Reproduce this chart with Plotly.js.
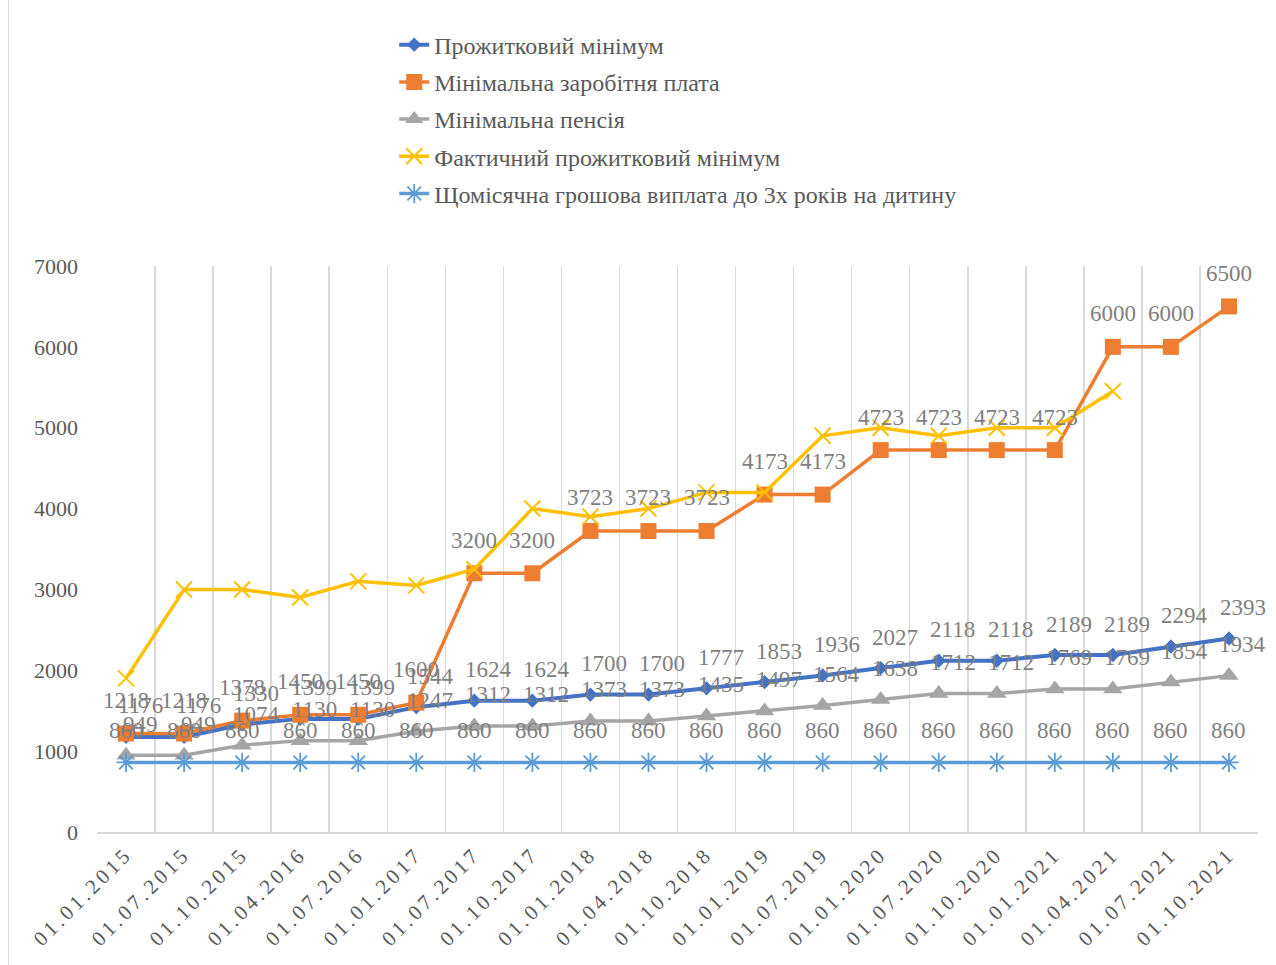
<!DOCTYPE html>
<html>
<head>
<meta charset="utf-8">
<script src="https://cdn.plot.ly/plotly-3.0.1.min.js"></script>
<style>
  html, body { margin: 0; padding: 0; background: #ffffff; }
  #wrap { position: relative; width: 1276px; height: 965px; }
  #chart { width: 1276px; height: 965px; }
  #edge { position: absolute; left: 8px; top: 0; width: 1px; height: 965px; background: #d9d9d9; }
  .xtick text { letter-spacing: 3.5px; }
</style>
</head>
<body>
<div id="wrap">
  <div id="chart"></div>
  <div id="edge"></div>
</div>
<script>
const categories = ["01.01.2015","01.07.2015","01.10.2015","01.04.2016","01.07.2016","01.01.2017","01.07.2017","01.10.2017","01.01.2018","01.04.2018","01.10.2018","01.01.2019","01.07.2019","01.01.2020","01.07.2020","01.10.2020","01.01.2021","01.04.2021","01.07.2021","01.10.2021"];

const seriesNames = ["Прожитковий мінімум","Мінімальна заробітня плата","Мінімальна пенсія","Фактичний прожитковий мінімум","Щомісячна грошова виплата до 3х років на дитину"];

const subsistence = [1176,1176,1330,1399,1399,1544,1624,1624,1700,1700,1777,1853,1936,2027,2118,2118,2189,2189,2294,2393];
const minWage = [1218,1218,1378,1450,1450,1600,3200,3200,3723,3723,3723,4173,4173,4723,4723,4723,4723,6000,6000,6500];
const minPension = [949,949,1074,1130,1130,1247,1312,1312,1373,1373,1435,1497,1564,1638,1712,1712,1769,1769,1854,1934];
const actualSubsistence = [1900,3000,3000,2900,3100,3050,3250,4000,3900,4000,4200,4200,4900,5000,4900,5000,5000,5450];
const childPayment = [860,860,860,860,860,860,860,860,860,860,860,860,860,860,860,860,860,860,860,860];

const yTicks = [0,1000,2000,3000,4000,5000,6000,7000];

const serif = "Liberation Serif, Times New Roman, serif";
const colors = ["#4472c4","#ed7d31","#a5a5a5","#ffc000","#5b9bd5"];

const traces = [
  { x: categories, y: subsistence, name: seriesNames[0], type: "scatter", mode: "lines+markers", legendgroup: "a",
    line: { color: colors[0], width: 4 }, marker: { symbol: "diamond", size: 11, color: colors[0] } },
  { x: categories, y: minWage, name: seriesNames[1], type: "scatter", mode: "lines+markers", legendgroup: "b",
    line: { color: colors[1], width: 3.5 }, marker: { symbol: "square", size: 16, color: colors[1] } },
  { x: categories, y: minPension, name: seriesNames[2], type: "scatter", mode: "lines+markers", legendgroup: "c",
    line: { color: colors[2], width: 3.5 }, marker: { symbol: "triangle-up", size: 17, color: colors[2] } },
  { x: categories.slice(0, actualSubsistence.length), y: actualSubsistence, name: seriesNames[3], type: "scatter", mode: "lines+markers", legendgroup: "d",
    line: { color: colors[3], width: 3.5 }, marker: { symbol: "x-thin", size: 16, color: colors[3], line: { color: colors[3], width: 2 } } },
  { x: categories, y: childPayment, name: seriesNames[4], type: "scatter", mode: "lines+markers", legendgroup: "e",
    line: { color: colors[4], width: 3.5 }, marker: { symbol: "asterisk-open", size: 16, color: colors[4], line: { color: colors[4], width: 1.8 } } }
];

const annotations = [];
function addLabels(values, dx, dy) {
  values.forEach(function (v, i) {
    annotations.push({
      x: categories[i], y: v, xref: "x", yref: "y", text: String(v), showarrow: false,
      xshift: dx, yshift: dy,
      font: { family: serif, size: 23, color: "#7f7f7f" }
    });
  });
}
addLabels(subsistence, 14, 31);
addLabels(minWage, 0, 33);
addLabels(minPension, 14, 31);
addLabels(childPayment, 0, 32);

const layout = {
  width: 1276, height: 965,
  margin: { l: 97, r: 18, t: 266, b: 133 },
  paper_bgcolor: "#ffffff", plot_bgcolor: "#ffffff",
  showlegend: true,
  legend: {
    x: 0.256, y: 1.43, xanchor: "left", yanchor: "top",
    font: { family: serif, size: 24, color: "#595959" },
    traceorder: "grouped", tracegroupgap: 3,
    bgcolor: "rgba(0,0,0,0)"
  },
  xaxis: {
    type: "category", range: [-0.5, categories.length - 0.5],
    tickson: "boundaries", showgrid: true, gridcolor: "#d9d9d9", gridwidth: 1.5,
    showline: true, linecolor: "#d9d9d9", linewidth: 1.5,
    ticks: "", tickangle: -45, automargin: false,
    tickfont: { family: serif, size: 21, color: "#595959" },
    fixedrange: true
  },
  yaxis: {
    range: [0, 7000], tickvals: yTicks, ticktext: yTicks.map(String),
    showgrid: false, zeroline: false, showline: false,
    ticks: "", ticklabelstandoff: 18, automargin: false,
    tickfont: { family: serif, size: 22, color: "#595959" },
    fixedrange: true
  },
  annotations: annotations
};

Plotly.newPlot("chart", traces, layout, { displayModeBar: false, staticPlot: true });
</script>
</body>
</html>
